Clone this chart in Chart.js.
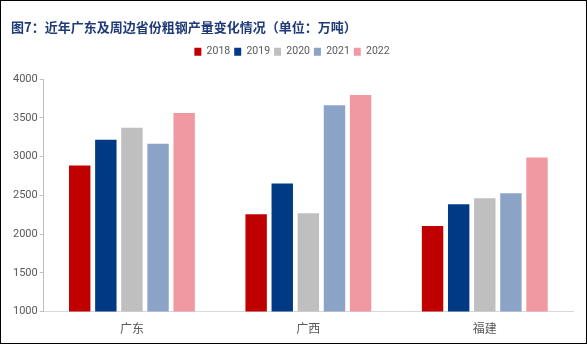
<!DOCTYPE html>
<html>
<head>
<meta charset="utf-8">
<script src="https://cdn.jsdelivr.net/npm/chart.js@4"></script>
<style>
  html, body { margin: 0; padding: 0; background: #fff; }
  #wrap { width: 585px; height: 342px; border: 1px solid #000; position: relative; }
</style>
</head>
<body>
<div id="wrap"><canvas id="chart" width="585" height="342"></canvas></div>
<script>
// 省份与年份
var provinces = ['广东', '广西', '福建'];
var years = ['2018', '2019', '2020', '2021', '2022'];
// 各年粗钢产量（万吨），按省份顺序
var y2018 = [2885, 2256, 2103];
var y2019 = [3218, 2654, 2385];
var y2020 = [3372, 2269, 2462];
var y2021 = [3167, 3662, 2526];
var y2022 = [3564, 3795, 2987];
var yTicks = [1000, 1500, 2000, 2500, 3000, 3500, 4000];

var colors = ['#C00000', '#003A84', '#BFBFBF', '#8BA3C7', '#F199A2'];
var series = [y2018, y2019, y2020, y2021, y2022];

// 图例下方留出空白
var legendGap = {
    id: 'legendGap',
    beforeInit: function (chart) {
        var fit = chart.legend.fit;
        chart.legend.fit = function () {
            fit.bind(chart.legend)();
            this.height += 12;
        };
    }
};

var ctx = document.getElementById('chart').getContext('2d');
var chart = new Chart(ctx, {
    type: 'bar',
    data: {
        labels: provinces,
        datasets: years.map(function (y, i) {
            return {
                label: y,
                data: series[i],
                backgroundColor: colors[i],
                borderWidth: 0,
                categoryPercentage: 0.74,
                barPercentage: 0.82
            };
        })
    },
    plugins: [legendGap],
    options: {
        responsive: false,
        animation: false,
        layout: { padding: { left: 10, right: 13, top: 10, bottom: 5 } },
        plugins: {
            title: {
                display: true,
                text: '图7：近年广东及周边省份粗钢产量变化情况（单位：万吨）',
                align: 'start',
                color: '#1F3A78',
                font: { family: '"Noto Sans CJK SC"', size: 13, weight: 'bold' },
                padding: { top: 8, bottom: 8 }
            },
            legend: {
                position: 'top',
                labels: {
                    boxWidth: 7,
                    boxHeight: 8,
                    padding: 4,
                    color: '#595959',
                    font: { family: 'Roboto', size: 10.5 }
                }
            },
            tooltip: { enabled: false }
        },
        scales: {
            x: {
                grid: { display: false },
                border: { color: '#D9D9D9', width: 1 },
                ticks: { color: '#595959', font: { family: '"Noto Sans CJK SC"', size: 12 }, padding: 2 }
            },
            y: {
                min: 1000,
                max: 4000,
                afterBuildTicks: function (axis) {
                    axis.ticks = yTicks.map(function (v) { return { value: v }; });
                },
                grid: { drawOnChartArea: false, drawTicks: true, tickLength: 4, color: '#BFBFBF' },
                border: { color: '#BFBFBF', width: 1 },
                ticks: {
                    color: '#595959',
                    font: { family: 'Roboto', size: 11 },
                    padding: 2,
                    callback: function (v) { return String(v); }
                }
            }
        }
    }
});
</script>
</body>
</html>
